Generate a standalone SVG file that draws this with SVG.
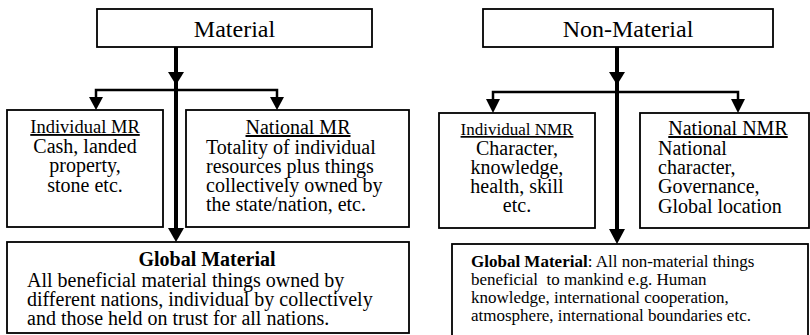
<svg xmlns="http://www.w3.org/2000/svg" width="810" height="335" viewBox="0 0 810 335">
<style>
.box{fill:#fff;stroke:#000;stroke-width:1.8}
text{fill:#000}
.h{font-size:24px;text-anchor:middle}
.b{font-size:20px}
.s{font-size:17px}
.c{text-anchor:middle}
.u{text-decoration:underline}
.ln{fill:none;stroke:#000}
.thick{stroke-width:4}
.mid{stroke-width:2.5}
</style>
<rect width="810" height="335" fill="#fff"/>
<g id="connectors">
<line class="ln thick" x1="176" y1="47" x2="176" y2="232"/>
<polygon points="168,72 184,72 176,85"/>
<polyline class="ln mid" points="96,99 96,90 277,90 277,99"/>
<polygon points="89,97 103,97 96,110"/>
<polygon points="270,97 284,97 277,110"/>
<polygon points="168,228 184,228 176,242"/>
<line class="ln thick" x1="617" y1="47" x2="617" y2="232"/>
<polygon points="609,72 625,72 617,85"/>
<polyline class="ln mid" points="493,101 493,92 738,92 738,101"/>
<polygon points="486,99 500,99 493,113"/>
<polygon points="731,99 745,99 738,113"/>
<polygon points="609,229 625,229 617,244"/>
</g>
<g font-family="Liberation Serif, Times New Roman, serif">
<g id="material">
<rect class="box" x="97" y="9" width="275" height="38"/>
<text class="h" x="234.5" y="37">Material</text>
</g>
<g id="individual-mr">
<rect class="box" x="7" y="110" width="156" height="117"/>
<text class="c u" x="85" y="133" font-size="18.5">Individual MR</text>
<text class="b c" x="85" y="153">Cash, landed</text>
<text class="b c" x="85" y="172">property,</text>
<text class="b c" x="85" y="192">stone etc.</text>
</g>
<g id="national-mr">
<rect class="box" x="186" y="110" width="223" height="117"/>
<text class="b c u" x="298" y="134">National MR</text>
<text class="b" x="206" y="154">Totality of individual</text>
<text class="b" x="206" y="173">resources plus things</text>
<text class="b" x="206" y="192">collectively owned by</text>
<text class="b" x="206" y="211">the state/nation, etc.</text>
</g>
<g id="global-material">
<rect class="box" x="7" y="242" width="402" height="91"/>
<text class="b c" x="207" y="266" font-weight="bold">Global Material</text>
<text class="b" x="27" y="287">All beneficial material things owned by</text>
<text class="b" x="27" y="306">different nations, individual by collectively</text>
<text class="b" x="27" y="325">and those held on trust for all nations.</text>
</g>
<g id="non-material">
<rect class="box" x="483" y="9" width="290" height="38"/>
<text class="h" x="628" y="37">Non-Material</text>
</g>
<g id="individual-nmr">
<rect class="box" x="439" y="113" width="156" height="115"/>
<text class="c u" x="517" y="135" font-size="17">Individual NMR</text>
<text class="b c" x="517" y="155">Character,</text>
<text class="b c" x="517" y="174">knowledge,</text>
<text class="b c" x="517" y="193">health, skill</text>
<text class="b c" x="517" y="212">etc.</text>
</g>
<g id="national-nmr">
<rect class="box" x="640" y="113" width="169" height="115"/>
<text class="b c u" x="728" y="135">National NMR</text>
<text class="b" x="658" y="155">National</text>
<text class="b" x="658" y="174">character,</text>
<text class="b" x="658" y="193">Governance,</text>
<text class="b" x="658" y="213">Global location</text>
</g>
<g id="global-non-material">
<rect class="box" x="452" y="244" width="356" height="100"/>
<text class="s" x="471" y="267" xml:space="preserve"><tspan font-weight="bold">Global Material</tspan>: All non-material things</text>
<text class="s" x="471" y="285" xml:space="preserve">beneficial  to mankind e.g. Human</text>
<text class="s" x="471" y="303">knowledge, international cooperation,</text>
<text class="s" x="471" y="321">atmosphere, international boundaries etc.</text>
</g>
</g>
</svg>
